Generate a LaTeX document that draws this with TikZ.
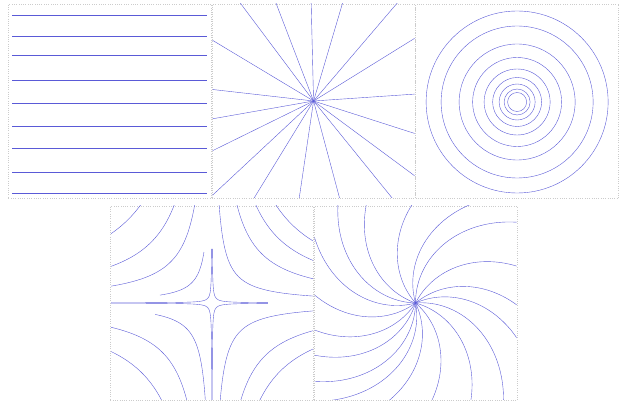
\documentclass[tikz,border=0pt]{standalone}
\usetikzlibrary{positioning}

\definecolor{fieldblue}{RGB}{90,90,215}
\tikzset{
	panel/.style={shape=rectangle, draw=gray!40, dotted, line width=0.6pt, minimum width=8.12cm, minimum height=7.76cm, inner sep=0pt},
	fieldline/.style={draw=fieldblue, line width=0.45pt},
}

\begin{document}
\begin{tikzpicture}[x=0.04cm, y=0.04cm]
	\useasboundingbox (0,0) rectangle (625,407);
	% Frames of the five panels:
	\node[panel] (uniform) at (110,306) {};
	\node[panel, right=0pt of uniform] (source) {};
	\node[panel, right=0pt of source] (centre) {};
	\node[panel] (saddle) at (212,104) {};
	\node[panel, right=0pt of saddle] (spiral) {};

	% Uniform flow:
	\begin{scope}[shift={(uniform.center)}]
		\foreach \y in {86,65,46,21,-2,-25,-47,-71,-92}
			\draw[fieldline] (-98,\y) -- (97,\y);
	\end{scope}

	% Source, straight rays:
	\begin{scope}[shift={(source.center)}]
		\clip (-101,-97) rectangle (101,97);
		\foreach \ang in {126.8,111,91.4,73.5,49.5,31.8,3.9,-17.8,-36.5,-51,-75,-98.4,-121.5,-137,-153.8,-170,173.5,149}
			\draw[fieldline] (0,0) -- (\ang:150);
	\end{scope}

	% Centre, closed orbits:
	\begin{scope}[shift={(centre.center)}]
		\foreach \r in {91,76,58,44.5,33,24.5,18,13,9.5}
			\draw[fieldline] (0,-1) circle[radius=\r];
	\end{scope}

	% Saddle, hyperbolas (sign x / sign y / constant / x range / y range):
	\begin{scope}[shift={(saddle.center)}]
		\clip (-101,-97) rectangle (101,97);
		\foreach \sx/\sy/\cc/\xm/\ym in {-1/1/7000/110/110, -1/1/3700/110/110, -1/1/1700/110/110, -1/1/410/52/51, -1/1/20/110/54,
				1/1/6270/110/110, 1/1/4300/110/110, 1/1/2450/110/110, 1/1/700/110/110, 1/1/20/56/54,
				-1/-1/4900/110/110, -1/-1/2450/110/110, -1/-1/650/57/110, -1/-1/20/110/110,
				1/-1/4650/110/110, 1/-1/2800/110/110, 1/-1/800/110/110, 1/-1/20/56/110}{
			\pgfmathsetmacro{\ua}{ln(\cc/\ym)}
			\pgfmathsetmacro{\ub}{ln(\xm)}
			\draw[fieldline] plot[domain=\ua:\ub, samples=70, smooth] ({\sx*exp(\x)},{\sy*\cc/exp(\x)});
		}
	\end{scope}

	% Spiral source:
	\begin{scope}[shift={(spiral.center)}]
		\clip (-101,-97) rectangle (101,97);
		\foreach \ang in {138.4,120.6,91.4,66,50.4,23.1,-0.6,-16.2,-35.4,-55.6,-81,-104.8,-119.4,-131,-147.2,-163.2,176,155.2}
			\draw[fieldline] plot[domain=0:150, samples=80, smooth] ({\x*cos(\ang-0.4*(\x-100))},{\x*sin(\ang-0.4*(\x-100))});
	\end{scope}
\end{tikzpicture}
\end{document}
